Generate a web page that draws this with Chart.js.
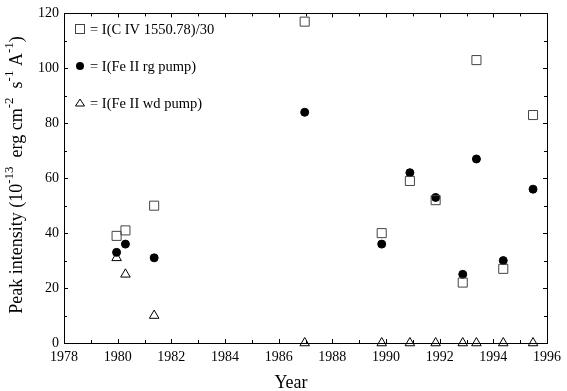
<!DOCTYPE html>
<html>
<head>
<meta charset="utf-8">
<script src="https://cdn.jsdelivr.net/npm/chart.js@4/dist/chart.umd.min.js"></script>
<style>
  body { margin: 0; background: #fff; }
</style>
</head>
<body>
<canvas id="myChart" width="567" height="391"></canvas>
<script>
var years = [1979.96, 1980.29, 1981.36, 1986.97, 1989.84, 1990.89, 1991.85, 1992.86, 1993.37, 1994.37, 1995.48];
var civ = [39, 41, 50, 117, 40, 59, 52, 22, 103, 27, 83];
var feRg = [33, 36, 31, 84, 36, 62, 53, 25, 67, 30, 56];
var feWd = [31, 25, 10, 0, 0, 0, 0, 0, 0, 0, 0];
var legendLabels = ['= I(C IV 1550.78)/30', '= I(Fe II rg pump)', '= I(Fe II wd pump)'];

var serif = '"Liberation Serif", "Times New Roman", serif';

function toPoints(vals) {
    return vals.map(function (v, i) { return { x: years[i], y: v }; });
}

var frame = {
    id: 'frame',
    afterDraw: function (chart) {
        var ctx = chart.ctx;
        var a = chart.chartArea;
        var xs = chart.scales.x;
        var ys = chart.scales.y;
        ctx.save();
        ctx.strokeStyle = '#000';
        ctx.lineWidth = 1;
        ctx.strokeRect(Math.round(a.left) + 0.5, Math.round(a.top) + 0.5,
            Math.round(a.right - a.left), Math.round(a.bottom - a.top));

        // inward ticks on all four sides
        ctx.beginPath();
        for (var yr = 1978; yr <= 1996; yr++) {
            var len = (yr % 2 === 0) ? 4 : 3;
            var px = Math.round(xs.getPixelForValue(yr)) + 0.5;
            ctx.moveTo(px, a.bottom); ctx.lineTo(px, a.bottom - len);
            ctx.moveTo(px, a.top); ctx.lineTo(px, a.top + len);
        }
        for (var v = 0; v <= 120; v += 10) {
            var l2 = (v % 20 === 0) ? 4 : 3;
            var py = Math.round(ys.getPixelForValue(v)) + 0.5;
            ctx.moveTo(a.left, py); ctx.lineTo(a.left + l2, py);
            ctx.moveTo(a.right, py); ctx.lineTo(a.right - l2, py);
        }
        ctx.stroke();

        // axis titles
        ctx.fillStyle = '#000';
        ctx.font = '18px ' + serif;
        ctx.textAlign = 'center';
        ctx.textBaseline = 'alphabetic';
        ctx.fillText('Year', 291, 388);

        var parts = [
            ['Peak intensity (10', 0], ['-13', 1], ['  erg cm', 0], ['-2', 1],
            ['  s', 0], ['-1', 1], [' A', 0], ['-1', 1], [')', 0]
        ];
        var total = 0;
        parts.forEach(function (p) {
            ctx.font = (p[1] ? '13px ' : '18px ') + serif;
            p.push(ctx.measureText(p[0]).width);
            total += p[2];
        });
        ctx.translate(22, 175);
        ctx.rotate(-Math.PI / 2);
        ctx.textAlign = 'left';
        var cx = -total / 2;
        parts.forEach(function (p) {
            ctx.font = (p[1] ? '13px ' : '18px ') + serif;
            ctx.fillText(p[0], cx, p[1] ? -9 : 0);
            cx += p[2];
        });
        ctx.restore();

        // legend
        ctx.save();
        ctx.font = '14.5px ' + serif;
        ctx.textBaseline = 'middle';
        ctx.fillStyle = '#000';
        var mx = 80, tx = 90;
        var rows = [29, 66, 103];
        ctx.strokeStyle = '#444';
        ctx.strokeRect(mx - 4.5, rows[0] - 4.5, 9, 9);
        ctx.beginPath();
        ctx.arc(mx, rows[1], 4, 0, Math.PI * 2);
        ctx.fill();
        ctx.strokeStyle = '#000';
        ctx.beginPath();
        ctx.moveTo(mx, rows[2] - 4);
        ctx.lineTo(mx + 4.5, rows[2] + 3);
        ctx.lineTo(mx - 4.5, rows[2] + 3);
        ctx.closePath();
        ctx.stroke();
        legendLabels.forEach(function (t, i) {
            ctx.fillText(t, tx, rows[i] + 1);
        });
        ctx.restore();
    }
};

var myChart = new Chart(document.getElementById('myChart'), {
    type: 'scatter',
    data: {
        datasets: [{
            label: legendLabels[0],
            data: toPoints(civ),
            pointStyle: 'rect',
            pointRadius: 6.4,
            backgroundColor: 'rgba(255,255,255,0)',
            borderColor: '#444',
            borderWidth: 1,
            clip: false
        }, {
            label: legendLabels[1],
            data: toPoints(feRg),
            pointStyle: 'circle',
            pointRadius: 4,
            backgroundColor: '#000',
            borderColor: '#000',
            borderWidth: 1,
            clip: false
        }, {
            label: legendLabels[2],
            data: toPoints(feWd),
            pointStyle: 'triangle',
            pointRadius: 5.5,
            backgroundColor: 'rgba(255,255,255,0)',
            borderColor: '#000',
            borderWidth: 1,
            clip: false
        }]
    },
    options: {
        responsive: false,
        animation: false,
        layout: {
            padding: { top: 6, right: 14, left: 0, bottom: 0 }
        },
        plugins: {
            legend: { display: false },
            tooltip: { enabled: false }
        },
        scales: {
            x: {
                type: 'linear',
                min: 1978,
                max: 1996,
                afterFit: function (s) { s.height = 48; },
                grid: { display: false, drawTicks: false },
                border: { display: false },
                ticks: {
                    stepSize: 2,
                    padding: 6,
                    color: '#000',
                    font: { family: serif, size: 14 },
                    callback: function (v) { return String(v); }
                }
            },
            y: {
                min: 0,
                max: 120,
                afterFit: function (s) { s.width = 64; },
                grid: { display: false, drawTicks: false },
                border: { display: false },
                ticks: {
                    stepSize: 20,
                    padding: 5,
                    color: '#000',
                    font: { family: serif, size: 14 }
                }
            }
        }
    },
    plugins: [frame]
});
</script>
</body>
</html>
